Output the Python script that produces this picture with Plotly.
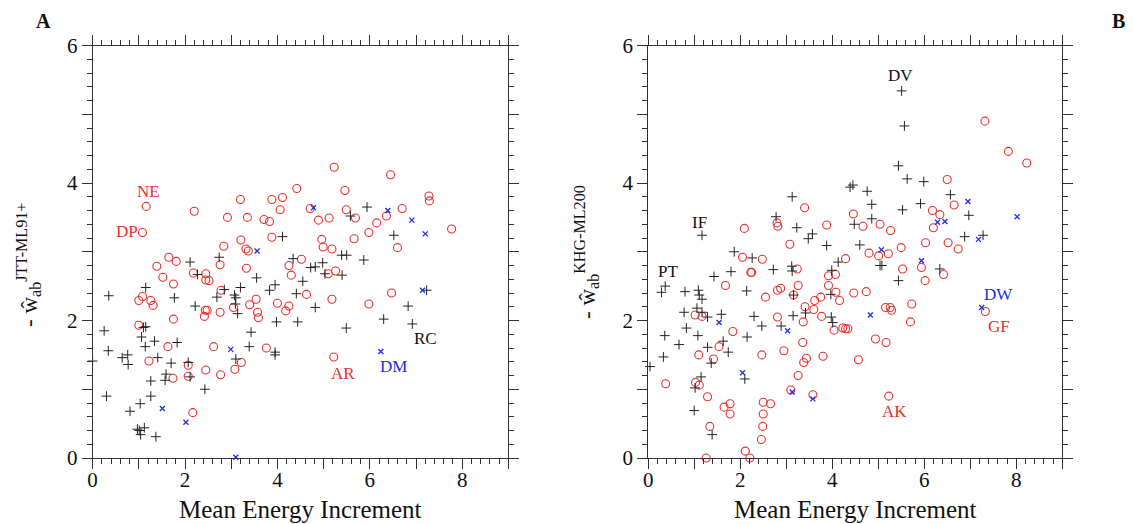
import plotly.graph_objects as go

# ---------------- Panel A (JTT-ML91+) ----------------
a_red_x = [1.16,1.08,2.20,3.20,3.88,2.92,3.35,3.71,3.83,3.88,3.21,2.84,3.32,3.37,1.65,1.81,1.39,2.76,3.33,2.18,2.45,1.52,2.45,2.52,1.75,2.78,1.08,1.00,1.26,1.31,3.54,3.40,3.05,2.44,2.48,2.76,3.57,2.42,3.59,1.75,1.00,2.62,1.63,3.76,1.22,2.07,3.22,2.07,2.45,3.08,2.77,1.74,2.17,
           5.23,6.45,4.42,4.11,5.46,7.28,7.29,4.06,4.71,5.49,6.70,4.89,5.12,5.69,6.36,6.15,7.77,5.98,4.96,4.99,5.66,5.18,6.60,4.52,4.25,4.30,5.10,5.26,4.63,6.47,5.18,4.00,4.25,4.18,5.98,5.22]
a_red_y = [3.66,3.28,3.59,3.76,3.76,3.50,3.50,3.47,3.44,3.21,3.17,3.08,3.04,3.01,2.92,2.86,2.79,2.81,2.76,2.69,2.68,2.63,2.59,2.58,2.53,2.44,2.35,2.29,2.29,2.22,2.31,2.23,2.19,2.15,2.15,2.12,2.12,2.06,2.04,2.02,1.93,1.62,1.62,1.60,1.41,1.35,1.39,1.19,1.28,1.29,1.21,1.16,0.66,
           4.23,4.12,3.92,3.79,3.89,3.81,3.74,3.61,3.63,3.61,3.63,3.46,3.49,3.49,3.52,3.42,3.33,3.28,3.18,3.07,3.19,3.04,3.06,2.89,2.80,2.66,2.68,2.72,2.38,2.40,2.31,2.25,2.21,2.14,2.24,1.47]

a_blk_x = [0.00,0.35,0.25,0.34,0.30,0.64,0.76,0.77,0.81,0.97,1.01,1.04,1.12,1.03,1.06,1.10,1.15,1.15,1.14,1.34,1.26,1.26,1.37,1.41,1.59,1.57,1.70,1.83,1.77,2.11,2.27,2.22,2.07,2.11,2.43,2.74,2.69,2.85,3.20,3.07,3.10,3.09,3.14,3.55,3.83,3.43,3.39,3.10,
           5.94,5.58,4.11,6.52,4.34,4.98,4.82,4.72,5.39,5.50,5.87,5.03,5.40,4.55,3.95,4.41,4.82,3.98,4.44,5.49,3.95,3.95,6.30,6.83,6.92,7.23]
a_blk_y = [1.41,2.36,1.85,1.56,0.90,1.46,1.50,1.36,0.68,0.42,0.40,0.34,0.44,0.79,1.76,1.90,1.91,2.48,1.62,1.70,1.12,0.90,0.31,1.46,1.22,1.13,1.38,1.68,2.33,2.85,2.67,2.21,1.39,1.18,1.00,2.92,2.34,2.45,2.48,2.37,2.33,2.24,2.10,2.62,2.44,1.83,1.62,1.44,
           3.65,3.52,3.22,3.24,2.90,2.84,2.78,2.77,2.95,2.95,2.88,2.68,2.66,2.57,2.52,2.39,2.19,1.98,1.98,1.89,1.54,1.50,2.02,2.21,1.95,2.44]

a_blu_x = [3.56,2.99,1.51,2.02,3.10,4.78,6.39,6.91,7.20,7.14,6.24]
a_blu_y = [3.01,1.58,0.72,0.52,0.01,3.64,3.60,3.46,3.26,2.44,1.55]

a_lab_text = ["NE", "DP", "AR", "DM", "RC"]
a_lab_x = [1.22, 0.74, 5.42, 6.51, 7.20]
a_lab_y = [3.88, 3.29, 1.23, 1.33, 1.74]
a_lab_col = ["red", "red", "red", "blue", "black"]

# ---------------- Panel B (KHG-ML200) ----------------
b_red_x = [0.38,1.03,1.11,1.02,1.17,1.10,1.42,1.54,1.84,1.68,1.29,1.34,1.65,1.78,1.78,1.26,2.09,2.05,2.23,2.25,2.48,2.55,2.47,2.50,2.50,2.49,2.46,2.66,2.11,2.21,2.80,2.82,3.40,3.88,3.08,3.24,2.81,2.88,3.26,3.16,2.81,2.95,3.41,3.37,3.36,3.44,3.38,3.26,3.10,3.58,3.62,3.75,3.60,3.77,3.80,3.92,3.92,4.04,
           7.32,7.83,8.23,6.50,6.65,6.18,6.34,6.20,4.46,4.67,5.04,5.27,6.03,6.52,6.74,4.29,4.80,5.01,5.22,5.50,5.53,5.94,6.02,6.42,4.07,4.08,4.16,4.47,4.74,4.23,4.29,4.34,5.16,5.26,5.29,5.73,5.70,4.94,5.17,4.57,5.23,7.33]
b_red_y = [1.08,1.10,1.06,2.08,2.06,1.50,1.44,1.62,1.84,2.51,0.89,0.46,0.74,0.79,0.64,0.00,3.34,2.92,2.70,2.70,2.89,2.34,1.50,0.81,0.64,0.46,0.27,0.79,0.10,0.00,3.42,3.37,3.64,3.39,3.11,2.75,2.44,2.47,2.51,2.37,2.05,1.56,2.20,1.98,1.68,1.45,1.39,1.20,0.99,0.92,2.29,2.34,2.16,2.06,1.48,2.65,2.51,1.86,
           4.90,4.46,4.29,4.05,3.68,3.60,3.54,3.35,3.55,3.37,3.40,3.31,3.13,3.13,3.04,2.90,2.98,2.94,2.97,3.06,2.75,2.77,2.58,2.67,2.67,2.41,2.29,2.40,2.42,1.89,1.88,1.88,2.19,2.19,2.15,2.24,1.98,1.73,1.68,1.43,0.90,2.13]

b_blk_x = [0.04,0.33,0.36,0.29,0.37,1.17,0.80,0.78,0.83,0.67,1.09,1.11,1.17,1.06,1.17,1.29,1.08,1.29,1.59,1.43,1.63,1.74,1.37,1.15,1.02,1.00,1.39,1.80,1.87,2.26,2.14,2.30,2.47,2.15,2.10,2.72,2.78,3.23,3.48,3.57,3.13,3.12,3.13,3.16,3.15,3.42,2.89,3.88,3.99,3.97,3.98,4.01,
           5.51,5.57,5.44,5.63,5.99,4.39,4.45,4.76,4.86,4.86,4.48,5.53,5.92,6.57,6.97,6.88,7.28,4.60,4.13,5.04,5.08,6.34,5.44]
b_blk_y = [1.33,1.47,1.78,2.41,2.50,3.24,2.42,2.12,1.89,1.65,2.44,2.37,2.31,2.18,2.12,2.05,1.78,1.61,2.09,2.64,1.70,1.54,1.38,1.18,1.02,0.69,0.34,2.71,3.00,2.91,2.43,2.06,1.92,1.76,1.15,2.74,3.51,3.35,3.19,3.26,3.80,2.79,2.72,2.37,2.07,2.11,1.92,3.09,2.73,2.38,2.05,1.97,
           5.34,4.83,4.25,4.06,4.02,3.94,3.97,3.88,3.69,3.48,3.40,3.61,3.70,3.83,3.53,3.22,3.24,3.10,2.85,2.80,2.80,2.75,2.58]

b_blu_x = [1.54,2.05,3.03,3.13,3.58,6.95,6.29,6.45,7.18,8.02,5.07,5.94,4.83,7.25]
b_blu_y = [1.97,1.24,1.85,0.96,0.86,3.73,3.43,3.44,3.18,3.51,3.03,2.87,2.08,2.19]

b_lab_text = ["DV", "IF", "PT", "DW", "GF", "AK"]
b_lab_x = [5.49, 1.11, 0.44, 7.61, 7.63, 5.36]
b_lab_y = [5.57, 3.43, 2.71, 2.38, 1.91, 0.68]
b_lab_col = ["black", "black", "black", "blue", "red", "red"]

# tick positions (labelled majors, unlabelled majors)
x_label_ticks = [0, 2, 4, 6, 8]
x_plain_ticks = [1, 3, 5, 7, 9]
y_label_ticks = [0, 2, 4, 6]
y_plain_ticks = [1, 3, 5]

RED = "#e8302c"
BLUE = "#2030e0"
BLACK = "#222222"
COLMAP = {"red": RED, "blue": BLUE, "black": "#111111"}
SERIF = "Liberation Serif"
AXC = "#333333"

fig = go.Figure()

def add_panel(rx, ry, kx, ky, bx, by, xa, ya):
    fig.add_trace(go.Scatter(x=rx, y=ry, mode="markers", xaxis=xa, yaxis=ya, cliponaxis=False,
                             marker=dict(symbol="circle-open", size=8, color=RED, line=dict(width=1.1, color=RED)),
                             showlegend=False, hoverinfo="x+y"))
    fig.add_trace(go.Scatter(x=kx, y=ky, mode="markers", xaxis=xa, yaxis=ya, cliponaxis=False,
                             marker=dict(symbol="cross-thin", size=7, color=BLACK, line=dict(width=1.0, color=BLACK)),
                             showlegend=False, hoverinfo="x+y"))
    fig.add_trace(go.Scatter(x=bx, y=by, mode="markers", xaxis=xa, yaxis=ya, cliponaxis=False,
                             marker=dict(symbol="x-thin", size=5, color=BLUE, line=dict(width=1.3, color=BLUE)),
                             showlegend=False, hoverinfo="x+y"))

add_panel(a_red_x, a_red_y, a_blk_x, a_blk_y, a_blu_x, a_blu_y, "x", "y")
add_panel(b_red_x, b_red_y, b_blk_x, b_blk_y, b_blu_x, b_blu_y, "x2", "y2")

# invisible traces so the overlay tick axes are drawn
for xa, ya in [("x3", "y3"), ("x4", "y4")]:
    fig.add_trace(go.Scatter(x=[None], y=[None], xaxis=xa, yaxis=ya, mode="markers",
                             showlegend=False, hoverinfo="skip"))

def axis(rng, ticks, overlay=None, standoff=0):
    d = dict(range=rng, showline=True, linecolor=AXC, linewidth=1, mirror="ticks",
             ticks="outside", ticklen=10, tickwidth=1, tickcolor=AXC,
             showgrid=False, zeroline=False, automargin=False,
             tickmode="array", tickvals=ticks,
             tickfont=dict(family=SERIF, size=21, color="#111"))
    if overlay:
        d.update(overlaying=overlay, showticklabels=False)
    else:
        d.update(ticklabelstandoff=standoff,
                 minor=dict(tickmode="linear", tick0=0, dtick=0.2, ticks="outside",
                            ticklen=5, tickcolor=AXC, tickwidth=1))
    return d

W, H = 1133, 524
xdomA = [92.6 / W, 508.4 / W]
xdomB = [648.2 / W, 1062.2 / W]
ydom = [(H - 458) / H, (H - 45.5) / H]

fig.update_layout(
    width=W, height=H, margin=dict(l=0, r=0, t=0, b=0, autoexpand=False),
    paper_bgcolor="white", plot_bgcolor="white",
    xaxis=dict(domain=xdomA, anchor="y", **axis([0, 9], x_label_ticks, standoff=-7)),
    yaxis=dict(domain=ydom, anchor="x", **axis([0, 6], y_label_ticks)),
    xaxis2=dict(domain=xdomB, anchor="y2", **axis([0, 9], x_label_ticks, standoff=-7)),
    yaxis2=dict(domain=ydom, anchor="x2", **axis([0, 6], y_label_ticks)),
    xaxis3=dict(domain=xdomA, anchor="y3", **axis([0, 9], x_plain_ticks, "x")),
    yaxis3=dict(domain=ydom, anchor="x3", **axis([0, 6], y_plain_ticks, "y")),
    xaxis4=dict(domain=xdomB, anchor="y4", **axis([0, 9], x_plain_ticks, "x2")),
    yaxis4=dict(domain=ydom, anchor="x4", **axis([0, 6], y_plain_ticks, "y2")),
)

ann = []
for t, x, y, c in zip(a_lab_text, a_lab_x, a_lab_y, a_lab_col):
    ann.append(dict(text=t, x=x, y=y, xref="x", yref="y", showarrow=False,
                    font=dict(family=SERIF, size=17, color=COLMAP[c])))
for t, x, y, c in zip(b_lab_text, b_lab_x, b_lab_y, b_lab_col):
    ann.append(dict(text=t, x=x, y=y, xref="x2", yref="y2", showarrow=False,
                    font=dict(family=SERIF, size=17, color=COLMAP[c])))

# axis titles
for xc in [sum(xdomA) / 2, sum(xdomB) / 2]:
    ann.append(dict(text="Mean Energy Increment", x=xc, y=(H - 509) / H, xref="paper", yref="paper",
                    showarrow=False, xanchor="center", yanchor="middle",
                    font=dict(family=SERIF, size=25, color="#111")))
ann.append(dict(text="- \u0175<sub>ab</sub><sup>JTT-ML91+</sup>", x=28 / W, y=(H - 265) / H,
                xref="paper", yref="paper", showarrow=False, textangle=-90,
                xanchor="center", yanchor="middle", font=dict(family=SERIF, size=23, color="#111")))
ann.append(dict(text="- \u0175<sub>ab</sub><sup>KHG-ML200</sup>", x=586 / W, y=(H - 252) / H,
                xref="paper", yref="paper", showarrow=False, textangle=-90,
                xanchor="center", yanchor="middle", font=dict(family=SERIF, size=23, color="#111")))
# panel letters
ann.append(dict(text="<b>A</b>", x=43 / W, y=(H - 21) / H, xref="paper", yref="paper", showarrow=False,
                xanchor="center", yanchor="middle", font=dict(family=SERIF, size=20, color="#111")))
ann.append(dict(text="<b>B</b>", x=1118 / W, y=(H - 21) / H, xref="paper", yref="paper", showarrow=False,
                xanchor="center", yanchor="middle", font=dict(family=SERIF, size=20, color="#111")))

fig.update_layout(annotations=ann)
fig.write_html("out.html", config={"displayModeBar": False},
               post_script="document.body.style.margin='0px';document.body.style.padding='0px';document.body.style.overflow='hidden';")
